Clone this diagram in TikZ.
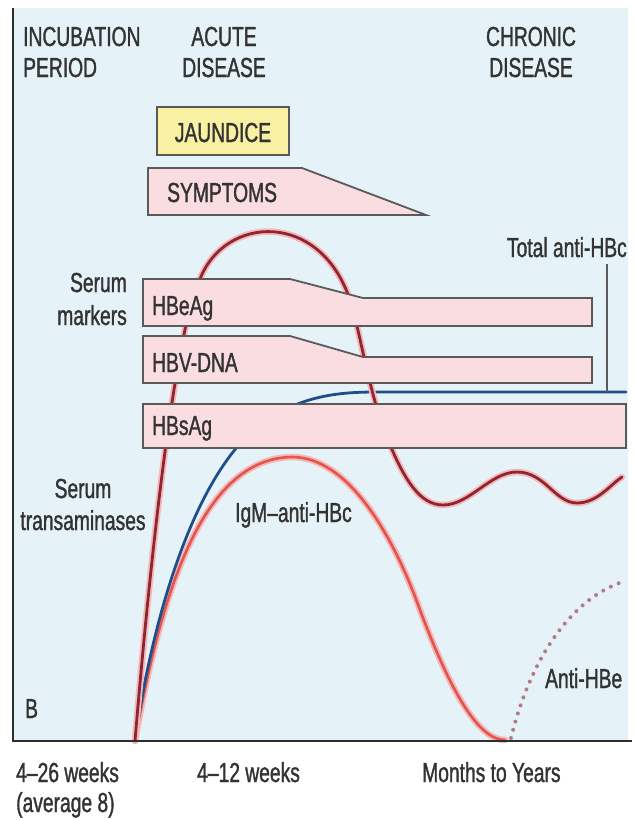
\documentclass[tikz,border=0pt]{standalone}
\usepackage{fontspec}
\setmainfont{Liberation Sans}[FakeStretch=0.70,FakeBold=1.2]
\definecolor{panel}{HTML}{E5F2F7}
\definecolor{txt}{HTML}{333333}
\definecolor{boxline}{HTML}{5A5A5A}
\definecolor{pinkfill}{HTML}{FADDE1}
\definecolor{yellowfill}{HTML}{F8F1A4}
\definecolor{darkred}{HTML}{8E2632}
\definecolor{igmred}{HTML}{E0564E}
\definecolor{halo}{HTML}{F4B8BA}
\definecolor{hbcblue}{HTML}{1F4F8A}
\definecolor{dotc}{HTML}{B47C82}
\definecolor{axisc}{HTML}{2E2E2E}
\begin{document}
\begin{tikzpicture}[x=1pt,y=-1pt,
  lbl/.style={text=txt,font=\fontsize{27.5}{32}\selectfont,inner sep=0pt},
  markerbox/.style={draw=boxline,line width=1.8pt,fill=pinkfill,line join=miter},
  jaundicebox/.style={draw=boxline,line width=1.8pt,fill=yellowfill},
  halostyle/.style={draw=halo,line width=6.5pt,line cap=round,line join=round},
  tacurve/.style={draw=darkred,line width=2.8pt,line cap=round,line join=round},
  igmcurve/.style={draw=igmred,line width=2.6pt,line cap=round,line join=round},
  bluecurve/.style={draw=hbcblue,line width=2.8pt,line cap=round,line join=round},
  dotcurve/.style={draw=dotc,line width=4pt,line cap=round,dash pattern=on 0pt off 8.5pt},
  axisline/.style={draw=axisc,line width=2.2pt},
  thinline/.style={draw=boxline,line width=1.4pt}]
\useasboundingbox (0,0) rectangle (634,820);
\fill[white] (0,0) rectangle (634,820);
\fill[panel] (13,8) rectangle (628,741);

% IgM-anti-HBc curve
\def\igmpath{(135,741) .. controls (160,600) and (200,458) .. (292,457) .. controls (350,457) and (395,540) .. (420,610) .. controls (450,690) and (478,740) .. (505,740)}
\draw[halostyle] \igmpath;
\draw[igmcurve] \igmpath;

% Anti-HBe dotted
\draw[dotcurve] (511,738) .. controls (530,660) and (570,600) .. (622,582);

% Total anti-HBc blue
\draw[bluecurve] (135,741) .. controls (155,600) and (200,470) .. (260,425) .. controls (300,395) and (340,392) .. (377,392) -- (626,392);

% Serum transaminases
\def\tapath{(135,741) .. controls (150,560) and (175,330) .. (200,279) .. controls (225,215) and (320,210) .. (350,300) .. controls (360,330) and (370,400) .. (390,445) .. controls (405,480) and (420,505) .. (443,505) .. controls (470,505) and (490,472) .. (517,472) .. controls (545,472) and (555,503) .. (577,503) .. controls (597,503) and (610,485) .. (622,477)}
\draw[halostyle] \tapath;
\draw[tacurve] \tapath;

% boxes
\draw[jaundicebox] (157,107) rectangle (289,155);
\draw[markerbox] (148,168) -- (302,168) -- (426,215) -- (148,215) -- cycle;
\draw[markerbox] (143,279) -- (290,279) -- (363,298) -- (592,298) -- (592,326) -- (143,326) -- cycle;
\draw[markerbox] (143,336) -- (290,336) -- (363,357) -- (592,357) -- (592,383) -- (143,383) -- cycle;
\draw[markerbox] (143,404) rectangle (626,448);

% Total anti-HBc pointer
\coordinate (ptrtop) at (607,264);
\coordinate (ptrbot) at (607,392);
\draw[thinline] (ptrtop) -- (ptrbot);

% axes
\draw[axisline] (13,8) -- (13,741) -- (632,741);

% texts
\node[lbl,anchor=base west] (inc1) at (23,46) {INCUBATION};
\node[lbl,anchor=base west] (inc2) at (23,77) {PERIOD};
\node[lbl,anchor=base] (ac1) at (224,46) {ACUTE};
\node[lbl,anchor=base] (ac2) at (224,77) {DISEASE};
\node[lbl,anchor=base] (ch1) at (531,46) {CHRONIC};
\node[lbl,anchor=base] (ch2) at (531,77) {DISEASE};
\node[lbl,anchor=base] (jaun) at (223,142) {JAUNDICE};
\node[lbl,anchor=base west] (symp) at (167,202) {SYMPTOMS};
\node[lbl,anchor=base east] (tot) at (627,257) {Total anti-HBc};
\node[lbl,anchor=base east] (sm1) at (127,292) {Serum};
\node[lbl,anchor=base east] (sm2) at (127,325) {markers};
\node[lbl,anchor=base west] (hbe) at (152,315) {HBeAg};
\node[lbl,anchor=base west] (dna) at (152,372) {HBV-DNA};
\node[lbl,anchor=base west] (hbs) at (152,435) {HBsAg};
\node[lbl,anchor=base] (st1) at (83,498) {Serum};
\node[lbl,anchor=base] (st2) at (83,530) {transaminases};
\node[lbl,anchor=base west] (igm) at (235,522) {IgM–anti-HBc};
\node[lbl,anchor=base west] (ahbe) at (545,688) {Anti-HBe};
\node[lbl,anchor=base west] (bl) at (25,718) {B};
\node[lbl,anchor=base west] (t1) at (16,782) {4–26 weeks};
\node[lbl,anchor=base west] (t1b) at (16,812) {(average 8)};
\node[lbl,anchor=base west] (t2) at (197,782) {4–12 weeks};
\node[lbl,anchor=base west] (t3) at (422,782) {Months to Years};
\end{tikzpicture}
\end{document}
